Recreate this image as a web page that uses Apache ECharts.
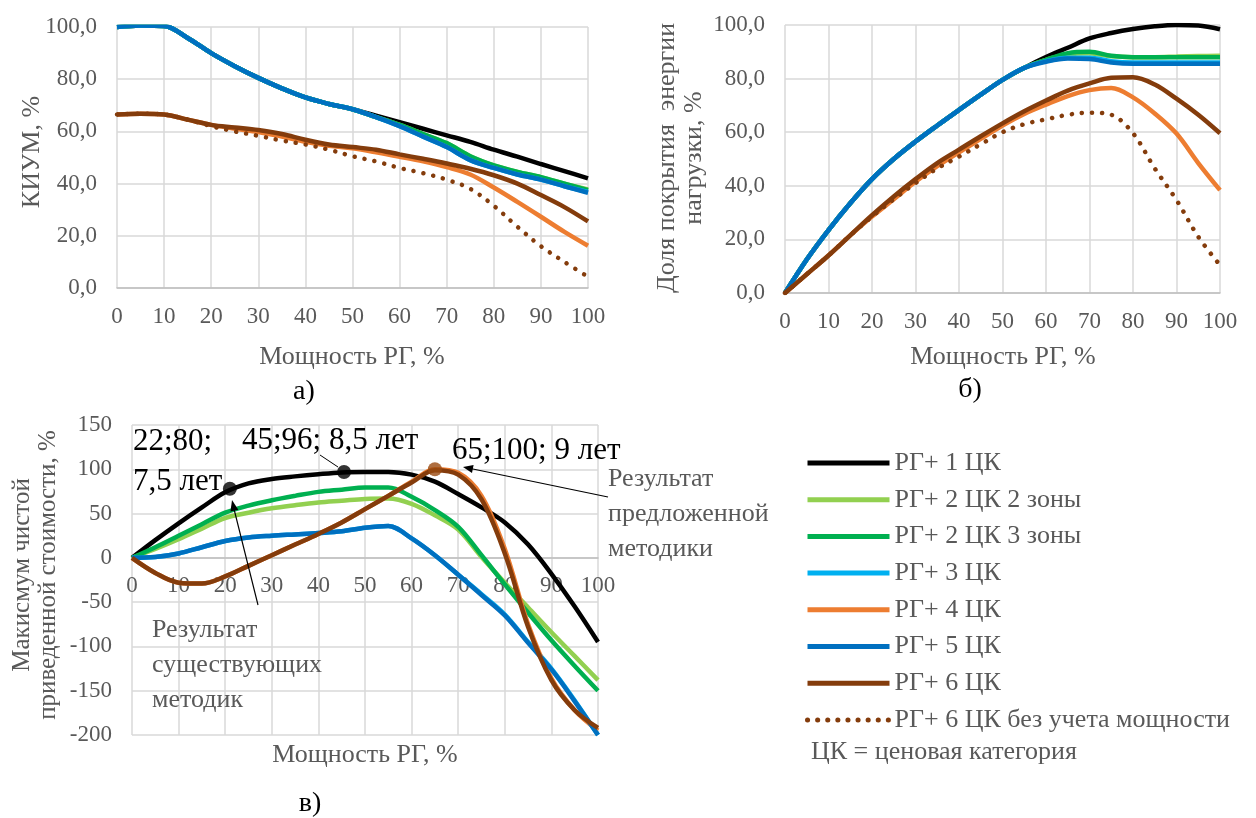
<!DOCTYPE html>
<html>
<head>
<meta charset="utf-8">
<title>КИУМ, доля покрытия, NPV</title>
<script src="https://cdn.jsdelivr.net/npm/echarts@6/dist/echarts.min.js"></script>
</head>
<body style="margin:0">
<div id="main" style="width:1256px;height:818px"></div>
<script>
// мощность РГ, %
var xs = [0, 5, 10, 15, 20, 25, 30, 35, 40, 45, 50, 55, 60, 65, 70, 75, 80, 85, 90, 95, 100];

var names = ['РГ+ 1 ЦК', 'РГ+ 2 ЦК 2 зоны', 'РГ+ 2 ЦК 3 зоны', 'РГ+ 3 ЦК',
             'РГ+ 4 ЦК', 'РГ+ 5 ЦК', 'РГ+ 6 ЦК', 'РГ+ 6 ЦК без учета мощности'];
var colors = ['#000000', '#92d050', '#00b050', '#00b0f0', '#ed7d31', '#0070c0', '#843c0c', '#843c0c'];

// а) КИУМ, %
var kium1  = [100, 100.6, 100.4, 95.8, 90, 85, 80.5, 76.5, 73, 70.5, 68.5, 66, 63.5, 61, 58.5, 56, 53, 50.3, 47.5, 44.8, 42];
var kium2a = [100, 100.6, 100.4, 95.8, 90, 85, 80.5, 76.5, 73, 70.5, 68.5, 65.5, 62.5, 59, 55.5, 50.5, 47, 44.5, 42.5, 40, 37.8];
var kium2b = [100, 100.6, 100.4, 95.8, 90, 85, 80.5, 76.5, 73, 70.5, 68.5, 65.5, 62.5, 59, 55.5, 50.5, 47, 44.5, 42.5, 40, 37.5];
var kium3  = [100, 100.6, 100.4, 95.8, 90, 85, 80.5, 76.5, 73, 70.5, 68.5, 65.5, 62, 58, 54, 49, 46, 43.5, 41.5, 39, 36.8];
var kium4  = [66.5, 66.8, 66.5, 64.5, 62.5, 61, 59.8, 58, 56, 54.5, 53.5, 52, 50.3, 48.5, 46.3, 43.5, 38.5, 33, 27.3, 21.5, 16.2];
var kium5  = [100, 100.6, 100.4, 95.8, 90, 85, 80.5, 76.5, 73, 70.5, 68.5, 65.5, 62, 58, 54, 49, 46, 43.5, 41.5, 39, 36.5];
var kium6  = [66.5, 66.8, 66.5, 64.5, 62.5, 61.5, 60.5, 59, 56.8, 55, 54, 53, 51.2, 49.5, 47.7, 45.7, 43.2, 40, 35.6, 31, 25.5];
var kium6n = [66.5, 66.8, 66.5, 64.5, 62, 60, 58.3, 56.5, 55, 53, 50.5, 48.5, 46, 44, 41.5, 38, 31.5, 23.5, 16, 10, 4.3];

// б) доля покрытия энергии нагрузки, %
var cov1  = [0, 12.5, 23.5, 33.5, 42.5, 50, 56.5, 62.5, 68.3, 74, 79.5, 84, 88, 91.5, 95, 97, 98.5, 99.5, 100, 99.8, 98.4];
var cov2a = [0, 12.5, 23.5, 33.5, 42.5, 50, 56.5, 62.5, 68.3, 74, 79.5, 84, 87, 89, 89.5, 88.3, 88, 88, 88.2, 88.4, 88.5];
var cov2b = [0, 12.5, 23.5, 33.5, 42.5, 50, 56.5, 62.5, 68.3, 74, 79.5, 84, 87, 89.5, 90, 88.5, 88, 88, 88, 88, 88];
var cov3  = [0, 12.5, 23.5, 33.5, 42.5, 50, 56.5, 62.5, 68.3, 74, 79.5, 84, 86.5, 87.8, 87.8, 86.5, 86, 86, 86, 86, 86];
var cov4  = [0, 7, 14, 21.5, 28.5, 35, 41.5, 47.3, 52.5, 57.5, 62.5, 66.8, 70.3, 73.5, 75.7, 76.5, 73, 67, 59.5, 48.5, 38.4];
var cov5  = [0, 12.5, 23.5, 33.5, 42.5, 50, 56.5, 62.5, 68.3, 74, 79.5, 84, 86.3, 87.5, 87.3, 86, 85.5, 85.5, 85.5, 85.5, 85.5];
var cov6  = [0, 7, 14, 21.5, 29, 36, 42.5, 48.5, 53.5, 58.5, 63.3, 67.8, 71.8, 75.5, 78.2, 80.3, 80.5, 77.8, 72.5, 66.5, 59.6];
var cov6n = [0, 7, 14, 21.5, 28.5, 35, 41, 46.5, 50.9, 55.5, 60, 63, 64.8, 66.5, 67.3, 66.5, 59.6, 46.5, 34.7, 21, 10.4];

// в) максимум чистой приведенной стоимости, %
var npv1  = [0, 20, 39, 57, 74, 84, 89, 92, 94.5, 96.5, 97, 97, 94, 86, 72, 57, 40, 15, -18, -55, -95];
var npv2a = [0, 10, 21, 33, 45, 51, 56, 59.5, 62.5, 64.5, 66.5, 67, 61, 48, 32, 1, -28, -56, -84, -111, -138];
var npv2b = [0, 12, 25, 38, 51, 59, 65, 70, 74.5, 77, 79.5, 79.5, 69, 54, 35, 3, -30, -62, -93, -122, -150];
var npv3  = [0, 1, 5, 12, 19, 23, 25, 26.5, 28, 30, 34, 36, 22, 3, -19, -41, -64, -95, -125, -161, -200];
var npv4  = [0, -17, -28, -29, -21, -9, 3, 15, 27, 40, 55, 70, 86, 100, 96, 70, 10, -75, -136, -172, -195];
var npv5  = [0, 1, 5, 12, 19, 23, 25, 26.5, 28, 30, 34, 36, 22, 3, -19, -42, -65, -96, -126, -162, -200];
var npv6  = [0, -17, -28, -29, -21, -9, 3, 15, 27, 40, 55, 70, 85, 99, 94, 66, 5, -78, -138, -172, -192];

// отмеченные точки
var existX = [21, 45.5];
var existY = [78, 97];
var propX = [65];
var propY = [100];

var serif = 'Liberation Serif';
var grey = '#595959';
var npvMin = -200, npvMax = 150, gridCH = 310;

function pairs(a, b) {
    return a.map(function (v, i) { return [v, b[i]]; });
}

function line(k, ys, idx) {
    var dotted = k === 7;
    return {
        name: names[k],
        type: 'line',
        xAxisIndex: idx,
        yAxisIndex: idx,
        data: pairs(xs, ys),
        smooth: 0.35,
        symbol: 'none',
        color: colors[k],
        lineStyle: dotted
            ? {color: colors[k], width: 4.5, type: [0.1, 10], cap: 'round'}
            : {color: colors[k], width: 4.5}
    };
}

function xAx(idx) {
    return {
        type: 'value', gridIndex: idx, min: 0, max: 100, interval: 10,
        axisTick: {show: false},
        axisLine: {onZero: false, lineStyle: {color: '#bfbfbf', width: 1.5}},
        axisLabel: {color: grey, fontSize: 23, fontFamily: serif, margin: 17},
        splitLine: {lineStyle: {color: '#d9d9d9', width: 1.5}}
    };
}

function yAx(idx, min, max, step, dec) {
    return {
        type: 'value', gridIndex: idx, min: min, max: max, interval: step,
        axisTick: {show: false},
        axisLine: {show: false},
        axisLabel: {
            color: grey, fontSize: 23, fontFamily: serif, margin: 20,
            formatter: function (v) { return dec ? v.toFixed(1).replace('.', ',') : String(v); }
        },
        splitLine: {lineStyle: {color: '#d9d9d9', width: 1.5}}
    };
}

function txt(x, y, s, opt, rot) {
    var st = Object.assign({text: s, fontFamily: serif, fontSize: 26, fill: grey,
                            align: 'center', verticalAlign: 'middle'}, opt || {});
    return {type: 'text', x: x, y: y, rotation: rot || 0, style: st, z: 50};
}

var series = [];
[kium1, kium2a, kium2b, kium3, kium4, kium5, kium6, kium6n].forEach(function (d, k) { series.push(line(k, d, 0)); });
[cov1, cov2a, cov2b, cov3, cov4, cov5, cov6, cov6n].forEach(function (d, k) { series.push(line(k, d, 1)); });
[npv1, npv2a, npv2b, npv3, npv4, npv5, npv6].forEach(function (d, k) { series.push(line(k, d, 2)); });

series.push({
    name: 'существующие', type: 'scatter', xAxisIndex: 2, yAxisIndex: 2,
    data: pairs(existX, existY), symbolSize: 14, itemStyle: {color: '#000000'}, z: 5
});
series.push({
    name: 'предложенная', type: 'scatter', xAxisIndex: 2, yAxisIndex: 2,
    data: pairs(propX, propY), symbolSize: 14, itemStyle: {color: '#9a4a10'}, z: 5
});

// ось X графика в) проходит через ноль
var xC = xAx(2);
xC.offset = -(0 - npvMin) / (npvMax - npvMin) * gridCH;

var myChart = echarts.init(document.getElementById('main'));
myChart.setOption({
    animation: false,
    backgroundColor: '#ffffff',
    grid: [
        {left: 117, top: 27, width: 471, height: 261},
        {left: 785, top: 25, width: 435, height: 268},
        {left: 132, top: 425, width: 466, height: gridCH}
    ],
    xAxis: [xAx(0), xAx(1), xC],
    yAxis: [yAx(0, 0, 100, 20, true), yAx(1, 0, 100, 20, true), yAx(2, npvMin, npvMax, 50, false)],
    legend: {
        data: names,
        orient: 'vertical',
        left: 800,
        top: 445,
        itemWidth: 82,
        itemHeight: 1,
        itemGap: 10.7,
        lineStyle: {width: 5},
        textStyle: {color: grey, fontSize: 26, fontFamily: serif, lineHeight: 26}
    },
    series: series,
    graphic: [
        // подписи осей
        txt(32, 152, 'КИУМ, %', {}, Math.PI / 2),
        txt(681, 158, 'Доля покрытия  энергии\nнагрузки, %', {lineHeight: 27}, Math.PI / 2),
        txt(35, 575, 'Макисмум чистой\nприведенной стоимости, %', {fontSize: 25, lineHeight: 26}, Math.PI / 2),
        txt(352, 357, 'Мощность РГ, %'),
        txt(1003, 357, 'Мощность РГ, %'),
        txt(365, 755, 'Мощность РГ, %'),
        // подписи рисунков
        txt(304, 392, 'а)', {fill: '#000', fontSize: 28}),
        txt(970, 390, 'б)', {fill: '#000', fontSize: 28}),
        txt(310, 804, 'в)', {fill: '#000', fontSize: 28}),
        // примечание к легенде
        txt(811, 752, 'ЦК = ценовая категория', {align: 'left'}),
        // значения оптимумов
        txt(133, 442, '22;80;', {align: 'left', fill: '#000', fontSize: 31}),
        txt(133, 482, '7,5 лет', {align: 'left', fill: '#000', fontSize: 31}),
        txt(242, 441, '45;96; 8,5 лет', {align: 'left', fill: '#000', fontSize: 31}),
        txt(452, 451, '65;100; 9 лет', {align: 'left', fill: '#000', fontSize: 31}),
        txt(152, 613, 'Результат\nсуществующих\nметодик', {align: 'left', verticalAlign: 'top', lineHeight: 35}),
        txt(608, 462, 'Результат\nпредложенной\nметодики', {align: 'left', verticalAlign: 'top', lineHeight: 35}),
        {type: 'line', shape: {x1: 320, y1: 455, x2: 338, y2: 467}, style: {stroke: '#000', lineWidth: 1}, z: 50},
        {type: 'line', shape: {x1: 258, y1: 605, x2: 233, y2: 505}, style: {stroke: '#000', lineWidth: 1.2}, z: 50},
        {type: 'polygon', shape: {points: [[232, 500], [238.3, 509.7], [230.5, 511.5]]}, style: {fill: '#000'}, z: 50},
        {type: 'line', shape: {x1: 608, y1: 497, x2: 468, y2: 468}, style: {stroke: '#000', lineWidth: 1.2}, z: 50},
        {type: 'polygon', shape: {points: [[463, 467], [473.6, 465.1], [472, 472.9]]}, style: {fill: '#000'}, z: 50}
    ]
});
</script>
</body>
</html>
